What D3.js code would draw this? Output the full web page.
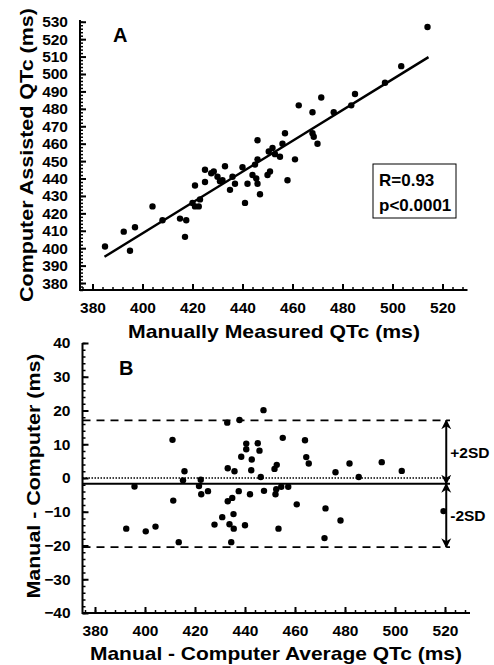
<!DOCTYPE html>
<html>
<head>
<meta charset="utf-8">
<script src="https://cdn.jsdelivr.net/npm/d3@7"></script>
<style>
  body { margin: 0; background: #fff; }
  svg text { font-family: "Liberation Sans", Arial, sans-serif; font-weight: bold; fill: #000; }
</style>
</head>
<body>
<script>
// Panel A: manual vs computer assisted QTc (ms)
const manualQTc = [385, 392.5, 395, 397, 404, 408, 415, 417.5, 417, 420, 421, 422.5, 423, 421, 425,
  425, 427.5, 428.5, 430, 431, 433, 432, 435, 436, 437, 440, 441, 442, 444, 445, 446, 446, 445.5,
  446, 447, 450, 451, 450.5, 452, 453, 455, 457, 456, 458, 461, 462.5, 468, 468, 468.5, 470, 471.5,
  476.5, 483.5, 485, 497, 503.5, 514];
const computerQTc = [401, 409.5, 398.5, 412, 424, 416, 417, 416, 406.5, 426, 424, 424, 428, 436, 438,
  445, 443, 444, 441, 438.5, 447, 439, 433.5, 441, 437, 446.5, 426, 437, 442, 448, 451, 462, 440,
  437, 431, 442, 444, 455.5, 457.5, 454, 452.5, 466, 460, 439, 451, 482, 478, 466, 464, 460, 486.5,
  478, 482, 488.5, 495, 504.5, 527];
const fitX = [384.8, 514.4];
const fitY = [395.1, 509.7];
const statsLines = ["R=0.93", "p<0.0001"];

// Panel B: Bland-Altman, average vs difference
const avgQTc = [392.5, 395.8, 400.3, 404.2, 411, 411.3, 413.5, 415.8, 415.2, 422.3, 421.6, 422.5, 425.2,
  427.8, 430.9, 432.9, 433.1, 435.8, 433.1, 434.9, 433.8, 435.4, 435.5, 434.5, 437.8, 437.5, 438.5,
  440.5, 440.5, 440, 442, 442.7, 442.5, 445.1, 445.8, 446.3, 447.4, 447.6, 451.8, 452.7, 452.2, 452.5,
  454.5, 457.3, 453.4, 455.1, 460.7, 464, 464.5, 465.5, 471.8, 472.2, 476.2, 478.2, 481.8, 485.5,
  494.7, 502.7, 519.4];
const diffQTc = [-15, -2.5, -15.8, -14.4, 11.3, -6.7, -19, 2, -0.7, -0.5, -2.4, -4.8, -3.9, -13.8, -11.6,
  16.4, 2.9, 2, -6.9, -5.9, -13.7, -10.7, -15, -19, 17.2, -3.9, 6.3, 10.2, 8.5, -14, -4.8, 5.5, 2.3,
  10.3, 8.1, 0.3, 20.1, -3.8, 2.7, 3.9, -4.8, -3.3, -2.6, -2.6, -15, 11.9, -7.8, 11.2, 6.2, 4.3,
  -17.8, -9, 1.7, -12.6, 4.3, 0.3, 4.7, 2.1, -9.8];
const meanDiff = -1.7;
const plus2SD = 17.1;
const minus2SD = -20.5;

const xTicks = [380, 400, 420, 440, 460, 480, 500, 520];
const yTicksA = d3.range(380, 531, 10);
const yTicksB = [-40, -30, -20, -10, 0, 10, 20, 30, 40];

const W = 494, H = 665;
const svg = d3.select("body").append("svg").attr("width", W).attr("height", H);

const defs = svg.append("defs");
defs.append("marker").attr("id", "ah").attr("viewBox", "0 0 10 10")
  .attr("refX", 9).attr("refY", 5).attr("markerWidth", 10).attr("markerHeight", 13)
  .attr("markerUnits", "userSpaceOnUse").attr("orient", "auto-start-reverse")
  .append("path").attr("d", "M0,0 L10,5 L0,10 L3,5 Z").attr("fill", "#000");

function drawAxes(g, x, y, yMajor, yMinorStep) {
  const [x0, x1] = x.range();
  const [y0, y1] = y.range();
  // minor ticks
  const xMinor = d3.range(376, 531, 4).filter(v => v >= x.domain()[0] && v <= x.domain()[1]);
  const yMinor = d3.range(y.domain()[0], y.domain()[1] + 0.01, yMinorStep);
  g.append("g").attr("transform", `translate(0,${y0})`)
    .call(d3.axisBottom(x).tickValues(xMinor).tickSize(-3).tickFormat(""))
    .call(a => a.select(".domain").remove())
    .selectAll("line").attr("stroke-width", 1.5);
  g.append("g").attr("transform", `translate(${x0},0)`)
    .call(d3.axisLeft(y).tickValues(yMinor).tickSize(-3).tickFormat(""))
    .call(a => a.select(".domain").remove())
    .selectAll("line").attr("stroke-width", 1.5);
  // major ticks
  const xa = g.append("g").attr("transform", `translate(0,${y0})`)
    .call(d3.axisBottom(x).tickValues(xTicks).tickSizeInner(-6).tickSizeOuter(0).tickPadding(14));
  xa.select(".domain").remove();
  xa.selectAll("line").attr("stroke-width", 2);
  xa.selectAll("text").attr("font-size", 15.5).attr("dy", "0.6em");
  const ya = g.append("g").attr("transform", `translate(${x0},0)`)
    .call(d3.axisLeft(y).tickValues(yMajor).tickSizeInner(-6).tickSizeOuter(0).tickPadding(12));
  ya.select(".domain").remove();
  ya.selectAll("line").attr("stroke-width", 2);
  ya.selectAll("text").attr("font-size", 15.5);
  // axis lines
  g.append("path").attr("d", `M${x0},${y1}V${y0}H${x1}`)
    .attr("fill", "none").attr("stroke", "#000").attr("stroke-width", 2);
}

function title(sel, len) {
  return sel.attr("text-anchor", "middle").attr("font-size", 18.5)
    .attr("textLength", len).attr("lengthAdjust", "spacingAndGlyphs");
}

// ---- Panel A ----
const xA = d3.scaleLinear().domain([375, 530]).range([80, 467.5]);
const yA = d3.scaleLinear().domain([376, 531]).range([290, 20]);
const gA = svg.append("g");
drawAxes(gA, xA, yA, yTicksA, 2);

gA.append("line")
  .attr("x1", xA(fitX[0])).attr("y1", yA(fitY[0]))
  .attr("x2", xA(fitX[1])).attr("y2", yA(fitY[1]))
  .attr("stroke", "#000").attr("stroke-width", 2.5);

gA.selectAll("circle.pt").data(manualQTc).enter().append("circle")
  .attr("class", "pt")
  .attr("cx", d => xA(d))
  .attr("cy", (d, i) => yA(computerQTc[i]))
  .attr("r", 3.2).attr("fill", "#000");

gA.append("text").attr("x", 113).attr("y", 42).attr("font-size", 20).text("A");

gA.append("rect").attr("x", 373).attr("y", 164).attr("width", 83).attr("height", 54)
  .attr("fill", "none").attr("stroke", "#000").attr("stroke-width", 1);
gA.selectAll("text.stat").data(statsLines).enter().append("text")
  .attr("class", "stat")
  .attr("x", 379).attr("y", (d, i) => 186 + i * 25)
  .attr("font-size", 17).text(d => d);

title(svg.append("text").attr("x", 274).attr("y", 338), 292).text("Manually Measured QTc (ms)");
title(svg.append("text").attr("transform", "translate(33,155) rotate(-90)"), 294)
  .text("Computer Assisted  QTc (ms)");

// ---- Panel B ----
const xB = d3.scaleLinear().domain([375, 530]).range([82.5, 470]);
const yB = d3.scaleLinear().domain([-40, 40]).range([613, 343]);
const gB = svg.append("g");
drawAxes(gB, xB, yB, yTicksB, 2);

const lineEnd = xB(522);
gB.append("line").attr("x1", xB(375)).attr("x2", lineEnd)
  .attr("y1", yB(0)).attr("y2", yB(0))
  .attr("stroke", "#000").attr("stroke-width", 1.5).attr("stroke-dasharray", "1.5,1.5");
gB.append("line").attr("x1", xB(375)).attr("x2", lineEnd)
  .attr("y1", yB(meanDiff)).attr("y2", yB(meanDiff))
  .attr("stroke", "#000").attr("stroke-width", 2);
[plus2SD, minus2SD].forEach(v => {
  gB.append("line").attr("x1", xB(375)).attr("x2", lineEnd)
    .attr("y1", yB(v)).attr("y2", yB(v))
    .attr("stroke", "#000").attr("stroke-width", 1.8).attr("stroke-dasharray", "8,6");
});

gB.selectAll("circle.pt").data(avgQTc).enter().append("circle")
  .attr("class", "pt")
  .attr("cx", d => xB(d))
  .attr("cy", (d, i) => yB(diffQTc[i]))
  .attr("r", 3.2).attr("fill", "#000");

// double-headed arrows for +/-2SD
const arrowX = xB(520.5);
[[meanDiff, plus2SD, "+2SD"], [meanDiff, minus2SD, "-2SD"]].forEach(([a, b, lab]) => {
  gB.append("line").attr("x1", arrowX).attr("x2", arrowX)
    .attr("y1", yB(a)).attr("y2", yB(b))
    .attr("stroke", "#000").attr("stroke-width", 2)
    .attr("marker-start", "url(#ah)").attr("marker-end", "url(#ah)");
  gB.append("text").attr("x", arrowX + 4).attr("y", yB((a + b) / 2) + 6)
    .attr("font-size", 15.5).text(lab);
});

gB.append("text").attr("x", 119).attr("y", 375).attr("font-size", 20).text("B");

title(svg.append("text").attr("x", 276).attr("y", 660), 372).text("Manual - Computer Average QTc (ms)");
title(svg.append("text").attr("transform", "translate(40,476) rotate(-90)"), 245)
  .text("Manual - Computer (ms)");
</script>
</body>
</html>
